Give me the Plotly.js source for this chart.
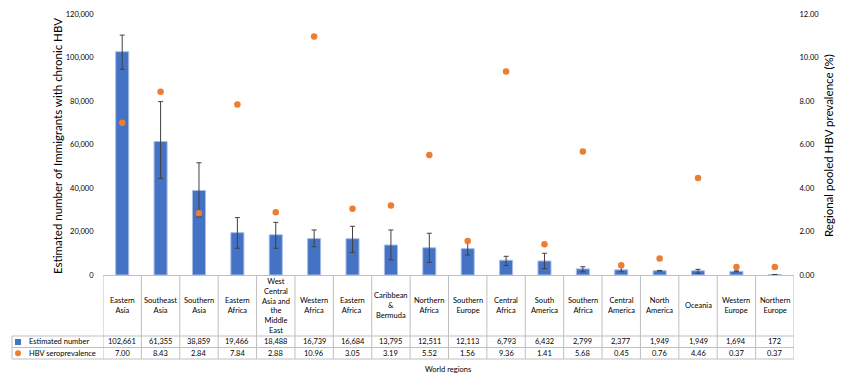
<!DOCTYPE html>
<html>
<head>
<meta charset="utf-8">
<script src="https://cdn.plot.ly/plotly-3.0.1.min.js"></script>
<style>html,body{margin:0;padding:0;background:#fff;}#chart{width:850px;height:386px;}</style>
</head>
<body>
<div id="chart"></div>
<script>
// ---- data ----
var regions = ["Eastern<br>Asia","Southeast<br>Asia","Southern<br>Asia","Eastern<br>Africa","West<br>Central<br>Asia and<br>the<br>Middle<br>East","Western<br>Africa","Eastern<br>Africa ","Caribbean<br>&<br>Bermuda","Northern<br>Africa","Southern<br>Europe","Central<br>Africa","South<br>America","Southern<br>Africa","Central<br>America","North<br>America","Oceania","Western<br>Europe","Northern<br>Europe"];
var estimated = [102661,61355,38859,19466,18488,16739,16684,13795,12511,12113,6793,6432,2799,2377,1949,1949,1694,172];
var upperCI = [110300,79700,51600,26400,24200,20700,22400,20700,19200,14900,8600,10000,3800,3800,2100,2600,1900,250];
var lowerCI = [94600,44400,26700,12300,12300,13000,10400,7000,5800,9200,4400,2900,1500,1500,1800,800,1500,120];
var prevalence = [7.00,8.43,2.84,7.84,2.88,10.96,3.05,3.19,5.52,1.56,9.36,1.41,5.68,0.45,0.76,4.46,0.37,0.37];
var seriesNames = ["Estimated number","HBV seroprevalence"];
var leftTitle = "Estimated number of Immigrants with chronic HBV";
var rightTitle = "Regional pooled HBV prevalence (%)";
var xTitle = "World regions";

// ---- layout constants ----
var W = 850, H = 386;
var mL = 103, mR = 56, mT = 14, mB = 111;
var plotW = W - mL - mR, plotH = H - mT - mB;
var FONT = "Lato, 'Open Sans', sans-serif";
var gridC = "#BFBFBF";
function py(pix){ return (mT + plotH - pix) / plotH; } // pixel y -> paper y
function px(pix){ return (pix - mL) / plotW; }          // pixel x -> paper x

var errPlus = estimated.map(function(v,i){return upperCI[i]-v;});
var errMinus = estimated.map(function(v,i){return v-lowerCI[i];});

var traces = [
  {type:"bar", x:regions, y:estimated, name:seriesNames[0], yaxis:"y",
   marker:{color:"#4472C4", line:{color:"#A9BEE6", width:1}},
   error_y:{type:"data", symmetric:false, array:errPlus, arrayminus:errMinus, color:"#404040", thickness:1, width:2.5},
   hoverinfo:"skip"},
  {type:"scatter", mode:"markers", x:regions, y:prevalence, name:seriesNames[1], yaxis:"y2",
   marker:{color:"#ED7D31", size:6.5}, hoverinfo:"skip"}
];

var shapes = [];
var annotations = [];
var yAxisBottom = py(275), yRow1Top = py(336), yRow2Top = py(347.5), yRow2Bot = py(359);
// vertical category separators
for (var i = 0; i <= regions.length; i++) {
  shapes.push({type:"line", xref:"x", yref:"paper", x0:i-0.5, x1:i-0.5, y0:yAxisBottom, y1:yRow2Bot, line:{color:gridC, width:1}});
}
// horizontal table lines
[yRow1Top, yRow2Top, yRow2Bot].forEach(function(yy){
  shapes.push({type:"line", xref:"paper", yref:"paper", x0:px(12), x1:1, y0:yy, y1:yy, line:{color:gridC, width:1}});
});
shapes.push({type:"line", xref:"paper", yref:"paper", x0:px(12), x1:px(12), y0:yRow1Top, y1:yRow2Bot, line:{color:gridC, width:1}});
// legend keys
shapes.push({type:"rect", xref:"paper", yref:"paper", x0:px(15), x1:px(21), y0:py(339), y1:py(345), fillcolor:"#4472C4", line:{width:0}});
shapes.push({type:"circle", xref:"paper", yref:"paper", x0:px(15), x1:px(21), y0:py(350.3), y1:py(356.3), fillcolor:"#ED7D31", line:{width:0}});

var tf = {family:FONT, size:7.5, color:"#000"};
regions.forEach(function(r, i){
  annotations.push({xref:"x", yref:"paper", x:i, y:py(305.5), text:r, showarrow:false, font:tf, align:"center", yanchor:"middle", xanchor:"center"});
  annotations.push({xref:"x", yref:"paper", x:i, y:py(341.8), text:estimated[i].toLocaleString("en-US"), showarrow:false, font:tf, yanchor:"middle", xanchor:"center"});
  annotations.push({xref:"x", yref:"paper", x:i, y:py(353.3), text:prevalence[i].toFixed(2), showarrow:false, font:tf, yanchor:"middle", xanchor:"center"});
});
annotations.push({xref:"paper", yref:"paper", x:px(27), y:py(341.8), text:seriesNames[0], showarrow:false, font:tf, xanchor:"left", yanchor:"middle"});
annotations.push({xref:"paper", yref:"paper", x:px(27), y:py(353.3), text:seriesNames[1], showarrow:false, font:tf, xanchor:"left", yanchor:"middle"});
annotations.push({xref:"paper", yref:"paper", x:px(448), y:py(369), text:xTitle, showarrow:false, font:tf, xanchor:"center", yanchor:"middle"});
annotations.push({xref:"paper", yref:"paper", x:px(57), y:py(146), text:leftTitle, showarrow:false, textangle:-90, font:{family:FONT, size:11.5, color:"#000"}, xanchor:"center", yanchor:"middle"});
annotations.push({xref:"paper", yref:"paper", x:px(828), y:py(146), text:rightTitle, showarrow:false, textangle:-90, font:{family:FONT, size:11.5, color:"#000"}, xanchor:"center", yanchor:"middle"});

var layout = {
  width:W, height:H,
  margin:{l:mL, r:mR, t:mT, b:mB, pad:0},
  paper_bgcolor:"#fff", plot_bgcolor:"#fff",
  showlegend:false,
  bargap:0.66,
  font:{family:FONT, size:7.5, color:"#000"},
  xaxis:{type:"category", showticklabels:false, ticks:"", showgrid:false, zeroline:false, showline:true, linecolor:gridC, linewidth:1, range:[-0.5, regions.length-0.5], fixedrange:true},
  yaxis:{range:[0,120000], dtick:20000, tickformat:",", showgrid:false, zeroline:false, showline:false, ticks:"outside", ticklen:7, tickcolor:"rgba(0,0,0,0)", tickfont:{family:FONT, size:7.5, color:"#000"}},
  yaxis2:{overlaying:"y", side:"right", range:[0,12], dtick:2, tickformat:".2f", showgrid:false, zeroline:false, showline:false, ticks:"outside", ticklen:3, tickcolor:"rgba(0,0,0,0)", tickfont:{family:FONT, size:7.5, color:"#000"}},
  shapes:shapes,
  annotations:annotations
};

Plotly.newPlot("chart", traces, layout, {displayModeBar:false, staticPlot:true});
</script>
</body>
</html>
